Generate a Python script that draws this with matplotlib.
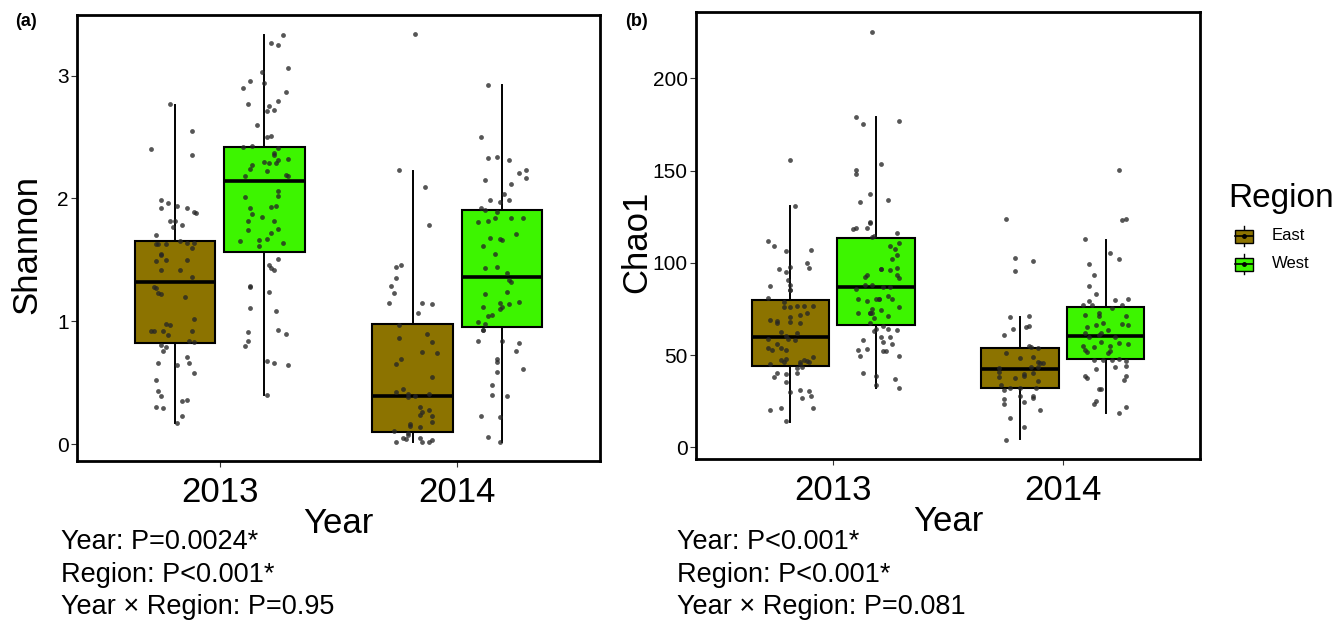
import numpy as np
import matplotlib
matplotlib.use("Agg")
import matplotlib.pyplot as plt
from matplotlib.patches import Rectangle

plt.rcParams.update({"font.family": ["Liberation Sans", "DejaVu Sans"]})

# %% data
years = ["2013", "2014"]
regions = ["East", "West"]
region_colors = {"East": "#8C7300", "West": "#3DF500"}

# box summaries: (whisker low, q1, median, q3, whisker high)
shannon_box = {
    ("2013", "East"): (0.17, 0.825, 1.32, 1.653, 2.76),
    ("2013", "West"): (0.40, 1.56, 2.14, 2.42, 3.33),
    ("2014", "East"): (0.02, 0.10, 0.39, 0.975, 2.22),
    ("2014", "West"): (0.02, 0.955, 1.36, 1.91, 2.92),
}
chao_box = {
    ("2013", "East"): (13.9, 44.1, 60.0, 79.8, 130.8),
    ("2013", "West"): (32.0, 66.3, 87.0, 113.3, 179.2),
    ("2014", "East"): (4.3, 32.3, 42.4, 54.0, 70.8),
    ("2014", "West"): (18.4, 47.9, 60.3, 76.2, 112.4),
}

# Shannon samples
sh_2013_east = [2.77, 2.40, 2.55, 2.35, 1.99, 1.96, 1.92, 1.94, 1.92, 1.89, 1.88, 1.82, 1.82, 1.77, 1.78,
                1.70, 1.63, 1.63, 1.63, 1.65, 1.64, 1.64, 1.60, 1.55, 1.54, 1.49, 1.50, 1.50, 1.42, 1.42,
                1.36, 1.28, 1.27, 1.23, 1.22, 1.20, 1.02, 0.98, 0.97, 0.92, 0.92, 0.92, 0.89, 0.92, 0.84,
                0.83, 0.81, 0.79, 0.76, 0.66, 0.71, 0.66, 0.64, 0.58, 0.52, 0.43, 0.39, 0.36, 0.35, 0.30,
                0.29, 0.23, 0.17]
sh_2013_east_jit = [-0.02, -0.10, 0.07, 0.07, -0.06, -0.03, -0.06, 0.01, 0.05, 0.08, 0.09, -0.02, 0.00, -0.01, 0.03,
                    -0.08, -0.08, -0.07, -0.04, 0.02, 0.05, 0.08, 0.07, -0.06, -0.06, -0.08, -0.04, 0.05, -0.06, 0.02,
                    0.07, -0.09, -0.08, -0.07, -0.06, 0.04, 0.08, -0.04, -0.02, -0.10, -0.09, -0.05, -0.03, 0.07, 0.06,
                    0.08, -0.06, -0.04, -0.05, -0.07, 0.05, 0.06, 0.01, 0.08, -0.08, -0.07, -0.06, 0.05, 0.03, -0.08,
                    -0.05, 0.03, 0.01]
sh_2013_west = [3.33, 3.27, 3.25, 3.06, 3.03, 2.94, 2.96, 2.90, 2.87, 2.77, 2.75, 2.79, 2.72, 2.71, 2.60,
                2.50, 2.51, 2.43, 2.42, 2.41, 2.37, 2.35, 2.32, 2.30, 2.29, 2.29, 2.31, 2.27, 2.24, 2.22,
                2.18, 2.19, 2.18, 2.06, 2.01, 2.02, 1.92, 1.94, 1.93, 1.87, 1.85, 1.82, 1.82, 1.75, 1.74,
                1.72, 1.65, 1.66, 1.67, 1.64, 1.61, 1.51, 1.46, 1.43, 1.42, 1.29, 1.28, 1.24, 1.11, 1.08,
                0.93, 0.90, 0.91, 0.84, 0.80, 0.68, 0.66, 0.64, 0.40]
sh_2013_west_jit = [0.08, 0.03, 0.06, 0.10, -0.01, 0.00, -0.06, -0.09, 0.09, -0.07, 0.02, 0.06, 0.04, 0.01, -0.03,
                    0.01, 0.03, -0.05, -0.09, 0.06, 0.04, 0.04, 0.10, 0.00, 0.02, 0.05, 0.06, -0.05, -0.06, 0.01,
                    -0.08, 0.09, 0.10, 0.06, -0.08, 0.06, -0.06, 0.05, 0.03, -0.05, -0.01, -0.07, 0.04, 0.06, -0.07,
                    0.03, -0.10, -0.02, 0.01, 0.08, -0.02, 0.06, 0.02, 0.03, 0.04, -0.06, -0.06, 0.02, -0.06, 0.05,
                    0.06, 0.09, -0.07, -0.07, -0.08, 0.01, 0.04, 0.10, 0.01]
sh_2014_east = [3.34, 2.23, 2.09, 1.78, 1.46, 1.44, 1.35, 1.29, 1.23, 1.15, 1.15, 1.14, 1.07, 0.97, 0.90,
                0.86, 0.83, 0.75, 0.74, 0.69, 0.65, 0.55, 0.45, 0.42, 0.41, 0.41, 0.39, 0.38, 0.30, 0.28,
                0.26, 0.24, 0.23, 0.16, 0.15, 0.14, 0.18, 0.11, 0.09, 0.07, 0.05, 0.04, 0.05, 0.02, 0.02,
                0.02, 0.03]
sh_2014_east_jit = [0.01, -0.06, 0.05, 0.07, -0.05, -0.07, -0.07, -0.09, -0.08, -0.10, 0.04, 0.08, 0.02, -0.06, 0.06,
                    -0.06, 0.08, 0.04, 0.10, -0.05, -0.07, 0.08, -0.04, -0.07, -0.02, 0.07, 0.01, -0.02, 0.03, 0.07,
                    0.04, 0.03, 0.08, -0.01, -0.01, 0.03, 0.08, -0.08, -0.02, -0.02, -0.04, -0.03, 0.03, -0.07, 0.04,
                    0.07, 0.08]
sh_2014_west = [2.92, 2.50, 2.33, 2.34, 2.31, 2.23, 2.21, 2.17, 2.15, 2.12, 2.04, 1.99, 1.99, 1.97, 1.92,
                1.91, 1.89, 1.84, 1.84, 1.84, 1.81, 1.82, 1.71, 1.68, 1.67, 1.66, 1.61, 1.55, 1.43, 1.44,
                1.39, 1.34, 1.32, 1.24, 1.22, 1.12, 1.15, 1.14, 1.16, 1.12, 1.10, 1.05, 1.04, 0.99, 0.98,
                0.93, 0.93, 0.84, 0.84, 0.82, 0.76, 0.69, 0.67, 0.59, 0.61, 0.48, 0.40, 0.39, 0.23, 0.22,
                0.06, 0.02]
sh_2014_west_jit = [-0.06, -0.09, -0.06, -0.02, 0.03, 0.10, 0.07, 0.10, -0.07, 0.04, 0.01, 0.03, -0.05, -0.01, -0.09,
                    -0.07, -0.02, 0.04, -0.03, 0.09, -0.10, -0.06, 0.06, -0.05, -0.01, 0.00, -0.08, -0.03, -0.07, -0.02,
                    0.02, 0.03, 0.04, 0.02, -0.07, -0.08, -0.01, 0.03, 0.07, 0.00, -0.01, -0.04, -0.06, -0.10, -0.07,
                    -0.08, -0.08, 0.00, -0.10, 0.07, 0.06, -0.02, -0.02, -0.02, 0.09, -0.04, -0.04, 0.02, -0.09, -0.01,
                    -0.06, -0.01]

# Chao1 samples
ch_2013_east = [155.6, 131.0, 111.7, 109.3, 106.2, 107.0, 100.1, 97.4, 96.7, 95.2, 97.7, 90.5, 88.2, 87.3, 85.5,
                85.3, 80.8, 79.0, 75.9, 76.6, 76.6, 76.6, 76.1, 72.6, 69.2, 68.5, 70.8, 71.7, 67.2, 68.1,
                67.2, 62.3, 62.2, 60.3, 58.7, 58.7, 58.2, 55.8, 54.0, 54.0, 52.8, 52.6, 49.1, 47.3, 46.8,
                46.3, 47.3, 47.7, 45.2, 46.1, 46.3, 45.0, 43.7, 42.8, 40.1, 39.6, 40.1, 38.1, 35.4, 31.1,
                30.5, 29.8, 26.9, 28.0, 20.2, 21.1, 21.1, 14.3]
ch_2013_east_jit = [0.00, 0.02, -0.10, -0.07, -0.02, 0.09, 0.07, 0.08, -0.05, -0.02, 0.00, -0.01, 0.00, -0.09, 0.00,
                    0.00, -0.10, -0.03, -0.03, 0.03, 0.06, 0.10, 0.00, 0.07, -0.09, -0.06, 0.00, 0.04, 0.04, 0.00,
                    -0.06, -0.04, 0.03, -0.02, -0.10, -0.01, 0.02, -0.06, -0.10, -0.04, -0.08, -0.02, 0.10, 0.06, 0.07,
                    0.04, -0.04, -0.02, -0.09, -0.03, 0.08, 0.04, 0.05, 0.03, -0.06, -0.02, 0.03, -0.07, -0.02, 0.04,
                    0.08, 0.00, 0.05, 0.09, -0.09, -0.04, 0.10, -0.02]
ch_2013_west = [225.3, 179.2, 175.2, 176.9, 153.4, 150.3, 148.1, 137.3, 133.0, 134.2, 121.9, 121.4, 118.5, 118.9, 119.1,
                114.5, 114.2, 116.0, 110.9, 109.1, 107.5, 101.9, 104.1, 93.4, 92.1, 96.7, 96.5, 96.1, 97.0, 93.2,
                92.0, 86.0, 88.0, 88.0, 87.1, 87.1, 80.2, 79.5, 80.2, 80.2, 80.2, 82.0, 80.2, 75.2, 76.1,
                73.0, 72.6, 74.3, 72.6, 72.6, 71.2, 70.3, 67.2, 64.0, 65.8, 63.2, 64.0, 63.6, 60.0, 60.0,
                57.1, 58.2, 56.0, 52.9, 52.4, 52.4, 49.7, 49.3, 53.1, 40.1, 38.7, 37.0, 32.0, 33.8]
ch_2013_west_jit = [-0.02, -0.09, -0.06, 0.10, 0.02, -0.09, -0.09, -0.03, -0.07, 0.05, -0.03, -0.03, -0.10, -0.09, -0.04,
                    -0.01, -0.02, 0.09, 0.10, 0.06, 0.08, 0.07, 0.09, -0.04, -0.05, 0.02, 0.02, 0.06, 0.09, 0.09,
                    0.10, -0.09, -0.05, -0.02, 0.03, 0.06, -0.08, -0.04, 0.00, 0.01, 0.01, 0.05, 0.07, -0.02, 0.10,
                    -0.08, -0.03, 0.02, -0.03, -0.02, 0.05, -0.01, -0.03, 0.00, 0.03, -0.01, 0.05, 0.09, 0.02, 0.06,
                    0.03, -0.06, 0.07, -0.08, 0.03, 0.04, 0.10, -0.07, -0.04, -0.06, 0.00, 0.08, 0.10, 0.00]
ch_2014_east = [123.9, 102.4, 101.0, 95.4, 70.6, 71.2, 64.0, 65.9, 65.2, 61.1, 51.1, 48.6, 54.9, 54.4, 54.0,
                48.8, 46.3, 45.5, 45.5, 43.5, 43.7, 43.2, 40.7, 37.9, 39.7, 38.7, 40.5, 37.4, 36.0, 33.8,
                32.3, 32.3, 32.3, 31.1, 28.0, 27.8, 26.9, 26.0, 23.5, 24.6, 20.2, 15.7, 11.2, 4.0]
ch_2014_east_jit = [-0.06, -0.02, 0.06, -0.02, -0.04, 0.04, -0.03, 0.04, 0.03, -0.07, -0.06, 0.00, 0.04, 0.05, 0.08,
                    0.06, 0.08, 0.09, 0.10, 0.08, 0.05, -0.09, -0.09, -0.09, 0.02, 0.02, 0.06, -0.02, 0.08, -0.08,
                    -0.04, 0.00, 0.07, -0.07, 0.00, 0.06, 0.06, -0.07, -0.07, 0.02, 0.09, -0.04, 0.02, -0.06]
ch_2014_west = [150.3, 123.0, 123.8, 112.7, 105.1, 102.1, 99.5, 93.4, 87.3, 83.1, 79.5, 80.4, 79.9, 77.1, 77.1,
                75.3, 77.1, 73.0, 71.2, 71.7, 71.4, 67.6, 66.3, 66.8, 66.3, 65.0, 63.6, 61.8, 61.8, 60.0,
                60.9, 60.0, 54.4, 57.3, 54.9, 56.4, 55.8, 54.9, 52.8, 51.5, 52.4, 51.3, 47.3, 47.3, 47.3,
                47.9, 47.0, 42.3, 43.7, 44.1, 38.8, 37.8, 38.8, 36.5, 31.8, 31.4, 25.3, 23.5, 22.0, 18.4]
ch_2014_west_jit = [0.06, 0.07, 0.09, -0.09, 0.02, 0.06, -0.07, -0.05, -0.07, -0.04, -0.07, 0.10, 0.04, -0.10, -0.06,
                    0.03, 0.07, -0.03, -0.03, -0.09, 0.09, -0.01, -0.04, 0.07, 0.10, -0.08, 0.01, -0.02, -0.09, -0.07,
                    -0.03, 0.04, -0.05, -0.02, 0.02, 0.06, 0.10, -0.10, -0.09, -0.08, 0.02, 0.01, -0.01, -0.05, 0.03,
                    0.06, 0.09, -0.04, 0.04, 0.09, -0.09, -0.08, 0.09, 0.08, -0.02, -0.03, -0.04, -0.05, 0.09, 0.06]

shannon_pts = {
    ("2013", "East"): (sh_2013_east, sh_2013_east_jit),
    ("2013", "West"): (sh_2013_west, sh_2013_west_jit),
    ("2014", "East"): (sh_2014_east, sh_2014_east_jit),
    ("2014", "West"): (sh_2014_west, sh_2014_west_jit),
}
chao_pts = {
    ("2013", "East"): (ch_2013_east, ch_2013_east_jit),
    ("2013", "West"): (ch_2013_west, ch_2013_west_jit),
    ("2014", "East"): (ch_2014_east, ch_2014_east_jit),
    ("2014", "West"): (ch_2014_west, ch_2014_west_jit),
}

shannon_stats = ["Year: P=0.0024*", "Region: P<0.001*", "Year \u00d7 Region: P=0.95"]
chao_stats = ["Year: P<0.001*", "Region: P<0.001*", "Year \u00d7 Region: P=0.081"]

# %% plotting
dodge = 0.1875
box_w = 0.34
pt_color = "#262626"

fig = plt.figure(figsize=(13.41, 6.21), dpi=100)
ax_a = fig.add_axes([77 / 1341, 1 - 461 / 621, 523 / 1341, 446 / 621])
ax_b = fig.add_axes([696 / 1341, 1 - 459 / 621, 504 / 1341, 447 / 621])


def draw_panel(ax, boxes, pts, ylim, yticks, ylabel, ylab_x):
    for i, yr in enumerate(years):
        for j, reg in enumerate(regions):
            pos = i + 1 + (-dodge if reg == "East" else dodge)
            lo, q1, med, q3, hi = boxes[(yr, reg)]
            st = [{"whislo": lo, "q1": q1, "med": med, "q3": q3, "whishi": hi, "fliers": []}]
            ax.bxp(st, positions=[pos], widths=box_w, patch_artist=True, showcaps=False,
                   showfliers=False,
                   boxprops=dict(facecolor=region_colors[reg], edgecolor="black", linewidth=1.5),
                   medianprops=dict(color="black", linewidth=2.6),
                   whiskerprops=dict(color="black", linewidth=1.4),
                   zorder=2)
            vals, jit = pts[(yr, reg)]
            ax.scatter(pos + np.array(jit), vals, s=12, color=pt_color, alpha=0.78,
                       linewidths=0, zorder=3)
    ax.set_xlim(0.4, 2.6)
    ax.set_ylim(*ylim)
    ax.set_xticks([1, 2])
    ax.set_xticklabels(years, fontsize=25)
    ax.set_yticks(yticks)
    ax.tick_params(axis="y", labelsize=15, length=4, width=0.8, color="#333333", pad=2)
    ax.tick_params(axis="x", length=4, width=0.8, color="#333333", pad=7)
    for spine in ax.spines.values():
        spine.set_linewidth(2)
        spine.set_color("black")
    ax.text(0.5, -0.14, "Year", transform=ax.transAxes, fontsize=25,
            ha="center", va="center")
    ax.text(ylab_x, 0.485, ylabel, transform=ax.transAxes, fontsize=25,
            ha="center", va="center", rotation=90)


draw_panel(ax_a, shannon_box, shannon_pts, (-0.138, 3.494), [0, 1, 2, 3], "Shannon", -0.096)
draw_panel(ax_b, chao_box, chao_pts, (-6.3, 235.9), [0, 50, 100, 150, 200], "Chao1", -0.117)

fig.text(15 / 1341, 1 - 22 / 621, "(a)", fontsize=13, fontweight="bold", va="center")
fig.text(625 / 1341, 1 - 22 / 621, "(b)", fontsize=13, fontweight="bold", va="center")

for x0, lines in [(61, shannon_stats), (677, chao_stats)]:
    for k, line in enumerate(lines):
        fig.text(x0 / 1341, 1 - (542 + 32.5 * k) / 621, line, fontsize=19.5, va="center")

# legend drawn as a small key area
fig.text(1228 / 1341, 1 - 198 / 621, "Region", fontsize=24, va="center")
leg = fig.add_axes([1232 / 1341, 1 - 280 / 621, 30 / 1341, 60 / 621])
leg.set_xlim(0, 30)
leg.set_ylim(60, 0)
leg.axis("off")
for k, reg in enumerate(regions):
    yc = 16 + 28 * k
    leg.plot([12, 12], [yc - 10, yc + 10], color="black", lw=1)
    leg.add_patch(Rectangle((3, yc - 6.5), 18, 13, facecolor=region_colors[reg],
                            edgecolor="black", lw=1, zorder=2))
    leg.plot([3, 21], [yc, yc], color="black", lw=1.2, zorder=3)
    leg.plot([12], [yc], "o", color="black", ms=2.5, zorder=4)
    fig.text(1272 / 1341, 1 - (236 + 28 * k) / 621, reg, fontsize=12, va="center")

fig.savefig("out.png", dpi=100)
